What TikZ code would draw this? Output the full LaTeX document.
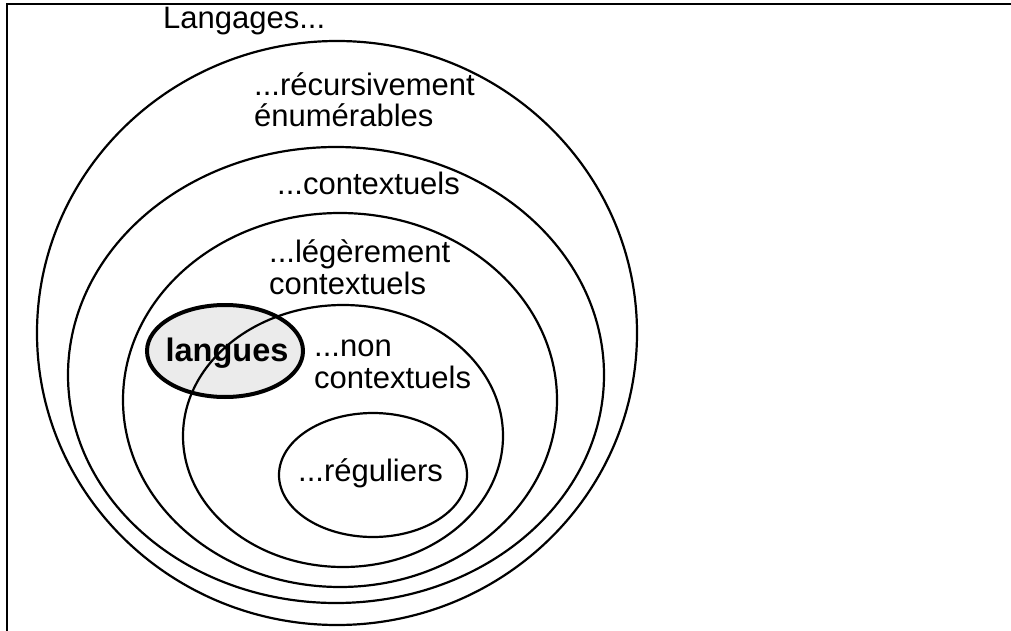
\documentclass[tikz,border=0pt]{standalone}
\usepackage{fontspec}
\setmainfont{Liberation Sans}
\definecolor{langfill}{RGB}{235,235,235}
\begin{document}
\begin{tikzpicture}[x=1pt,y=-1pt,
  frame/.style={line width=2pt},
  setline/.style={line width=2.2pt},
  langline/.style={line width=4pt},
  lbl/.style={anchor=base west,inner sep=0pt,align=left,font=\fontsize{31}{31.5}\selectfont},
  boldlbl/.style={anchor=base,inner sep=0pt,font=\fontsize{32.5}{33}\selectfont\bfseries}]
\useasboundingbox (0,0) rectangle (1011,631);
\fill[white] (0,0) rectangle (1011,631);
% frame
\draw[frame] (7,631) -- (7,4) -- (1011,4);
% langues fill
\fill[langfill] (225,351) ellipse [x radius=78pt, y radius=46pt];
% nested sets
\draw[setline] (337,333) ellipse [x radius=300pt, y radius=292pt];
\draw[setline] (336,375) ellipse [x radius=268pt, y radius=228pt];
\draw[setline] (340,400) ellipse [x radius=217pt, y radius=187pt];
\draw[setline] (343,436) ellipse [x radius=160pt, y radius=131pt];
\draw[setline] (373,475) ellipse [x radius=94pt, y radius=62pt];
% langues border
\draw[langline] (225,351) ellipse [x radius=78pt, y radius=46pt];
% labels (multi-line nodes: base = baseline of last line)
\node[lbl] (title) at (163,29) {Langages...};
\node[lbl] (re) at (254,127) {...récursivement\\énumérables};
\node[lbl] (ctx) at (277,194) {...contextuels};
\node[lbl] (lctx) at (269,294) {...légèrement\\contextuels};
\node[lbl] (nctx) at (314,388) {...non\\contextuels};
\node[lbl] (reg) at (298,481) {...réguliers};
\node[boldlbl] (lang) at (227,361) {langues};
\end{tikzpicture}
\end{document}
